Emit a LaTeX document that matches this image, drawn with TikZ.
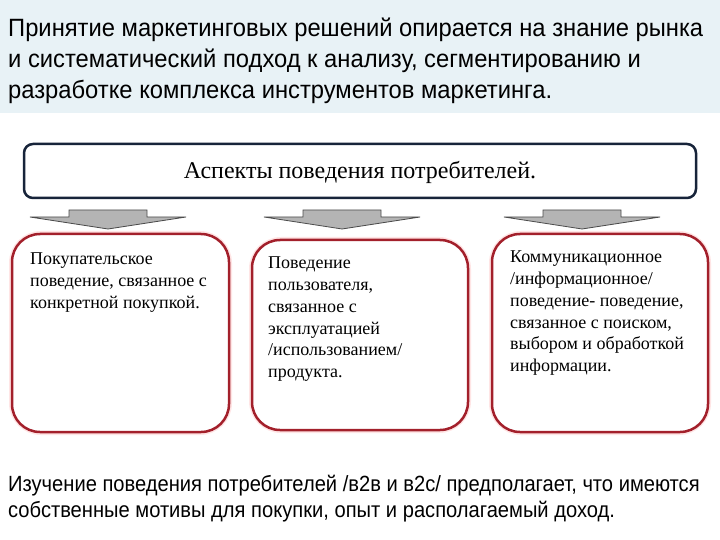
\documentclass[tikz,border=0pt]{standalone}
\usepackage{fontspec}
\setmainfont{Liberation Serif}
\newfontfamily\headfont[FakeStretch=0.95]{Liberation Sans}
\newfontfamily\footfont[FakeStretch=0.915]{Liberation Sans}
\definecolor{bandblue}{HTML}{E8F2F6}
\definecolor{navy}{HTML}{17243A}
\definecolor{boxred}{HTML}{A3202B}
\definecolor{arrowgray}{HTML}{B4B4B4}
\tikzset{
  headtext/.style={anchor=base west, inner sep=0pt, align=left,
    font=\headfont\fontsize{25bp}{31bp}\selectfont},
  foottext/.style={anchor=base west, inner sep=0pt, align=left,
    font=\footfont\fontsize{22bp}{26bp}\selectfont},
  titlebox/.style={draw=navy, line width=2.5bp, rounded corners=9bp, fill=white},
  aspectbox/.style={draw=boxred, line width=2.5bp, rounded corners=28bp, fill=white},
  glow/.style={draw=red!10, line width=6bp, rounded corners=29bp},
  boxtext/.style={anchor=base west, inner sep=0pt, align=left,
    font=\fontsize{18bp}{21.7bp}\selectfont},
  blockarrow/.style={fill=arrowgray, draw=black!70, line width=0.8bp}
}
\begin{document}
\begin{tikzpicture}[x=1bp,y=-1bp]
\useasboundingbox (0,0) rectangle (720,540);
\fill[white] (0,0) rectangle (720,540);
\fill[bandblue] (0,0) rectangle (720,113);
% base anchor of a multi-line node = baseline of its last line
\node[headtext] (head) at (8,99) {Принятие маркетинговых решений опирается на знание рынка\\и систематический подход к анализу, сегментированию и\\разработке комплекса инструментов маркетинга.};

% title box
\draw[titlebox] (24,144) rectangle (696,198);
\node[font=\fontsize{24bp}{28bp}\selectfont, inner sep=0pt] (title) at (360,172) {Аспекты поведения потребителей.};

% block arrows
\foreach \cx in {108,342,582}{
  \draw[blockarrow] (\cx-39,210) -- (\cx+39,210) -- (\cx+39,217) -- (\cx+78,217)
    -- (\cx,229) -- (\cx-78,217) -- (\cx-39,217) -- cycle;
}

% aspect boxes
\draw[glow] (12,234) rectangle (229,432);
\draw[glow] (252,240) rectangle (468,430);
\draw[glow] (492,234) rectangle (708,432);
\draw[aspectbox] (12,234) rectangle (229,432);
\draw[aspectbox] (252,240) rectangle (468,430);
\draw[aspectbox] (492,234) rectangle (708,432);

\node[boxtext] (t1) at (30,308.4) {Покупательское\\поведение, связанное с\\конкретной покупкой.};
\node[boxtext] (t2) at (268,377.5) {Поведение\\пользователя,\\связанное с\\эксплуатацией\\/использованием/\\продукта.};
\node[boxtext] (t3) at (510,371.5) {Коммуникационное\\/информационное/\\поведение- поведение,\\связанное с поиском,\\выбором и обработкой\\информации.};

\node[foottext] (foot) at (8,517) {Изучение поведения потребителей /в2в и в2с/ предполагает, что имеются\\собственные мотивы для покупки, опыт и располагаемый доход.};
\end{tikzpicture}
\end{document}
